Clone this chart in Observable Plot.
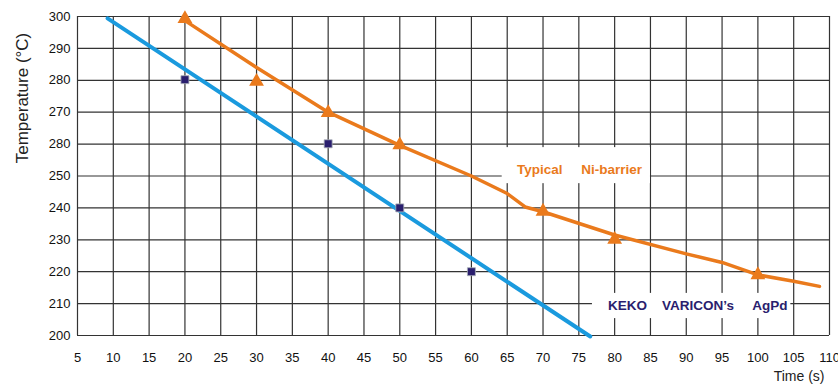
<!DOCTYPE html>
<html><head><meta charset="utf-8">
<script src="https://cdn.jsdelivr.net/npm/d3@7"></script>
<script src="https://cdn.jsdelivr.net/npm/@observablehq/plot@0.6"></script>
<style>
html,body{margin:0;padding:0;background:#fff;}
#chart svg text{white-space:pre;}
</style></head><body><div id="chart"></div>
<script>
// Tick values and labels (as printed in the original, including its "280" at the 260 line)
const xTicks = [5,10,15,20,25,30,35,40,45,50,55,60,65,70,75,80,85,90,95,100,105,110];
const yTicks = [200,210,220,230,240,250,260,270,280,290,300];
const yTickLabels = ["200","210","220","230","240","250","280","270","280","290","300"];

// KEKO VARICON's AgPd: fitted line and measured points
const blueTime = [9.2, 76.6];
const blueTemp = [299.4, 199.7];
const squareTime = [20, 40, 50, 60];
const squareTemp = [280.2, 260.1, 240, 220];

// Typical Ni-barrier: curve and measured points
const orangeTime = [20, 30, 40, 50, 60, 65, 67.5, 70, 80, 90, 95, 100, 105, 108.6];
const orangeTemp = [298.7, 284, 270, 259.6, 250, 244.5, 240.3, 238.8, 231.5, 225.6, 222.9, 219, 217, 215.4];
const triTime = [20, 30, 40, 50, 70, 80, 100];
const triTemp = [299.3, 279.6, 269.8, 259.7, 238.9, 230.1, 219];

// Annotations
const notes = ["Typical     Ni-barrier", "KEKO    VARICON\u2019s     AgPd"];
const noteX = [75.1, 91.6];
const noteY = [252.0, 209.4];
const noteColor = ["#ea7a1c", "#2a1e6e"];
const boxX1 = [64.3, 76.9], boxX2 = [85.0, 104.6], boxY1 = [247.6, 205.3], boxY2 = [258.9, 213.2];

const idx = a => a.map((_, i) => i);
const sans = "'Liberation Sans', Arial, Helvetica, sans-serif";

const chart = Plot.plot({
  width: 838, height: 389,
  marginLeft: 77, marginRight: 9, marginTop: 16, marginBottom: 54,
  style: {fontFamily: sans, fontSize: "13px", color: "#111", background: "#fff"},
  x: {domain: [5, 110], ticks: xTicks, tickSize: 0, tickPadding: 17, label: null, tickFormat: d => String(d)},
  y: {domain: [200, 300], ticks: yTicks, tickSize: 0, tickPadding: 7, label: null,
      tickFormat: d => yTickLabels[yTicks.indexOf(d)]},
  marks: [
    Plot.ruleX(xTicks, {stroke: "#333", strokeWidth: 1.2}),
    Plot.ruleY(yTicks, {stroke: "#333", strokeWidth: 1.2}),
    Plot.rect(idx(notes), {x1: i => boxX1[i], x2: i => boxX2[i], y1: i => boxY1[i], y2: i => boxY2[i], fill: "#fff"}),
    Plot.line(idx(blueTime), {x: i => blueTime[i], y: i => blueTemp[i], stroke: "#1a9ade", strokeWidth: 4}),
    Plot.line(idx(orangeTime), {x: i => orangeTime[i], y: i => orangeTemp[i], stroke: "#ea7a1c", strokeWidth: 3.5, strokeLinejoin: "round"}),
    Plot.dot(idx(triTime), {x: i => triTime[i], y: i => triTemp[i], symbol: "triangle", r: 5.5, fill: "#ea7a1c"}),
    Plot.dot(idx(squareTime), {x: i => squareTime[i], y: i => squareTemp[i], symbol: "square", r: 4.5, fill: "#2a1e6e", stroke: "#a9b0b8", strokeWidth: 0.8}),
    Plot.text(idx(notes), {x: i => noteX[i], y: i => noteY[i], text: i => notes[i], fill: i => noteColor[i],
      fontSize: 13.5, fontWeight: "bold", fontFamily: sans}),
    Plot.text(["Temperature (\u00B0C)"], {frameAnchor: "left", textAnchor: "middle", dx: -55, dy: -78, rotate: -90, fontSize: 17,
      fontFamily: sans, fill: "#222"}),
    Plot.text(["Time (s)"], {frameAnchor: "bottom-right", textAnchor: "end", dx: -5, dy: 45, fontSize: 14,
      fontFamily: sans, fill: "#222"})
  ]
});
document.getElementById("chart").append(chart);
</script></body></html>
